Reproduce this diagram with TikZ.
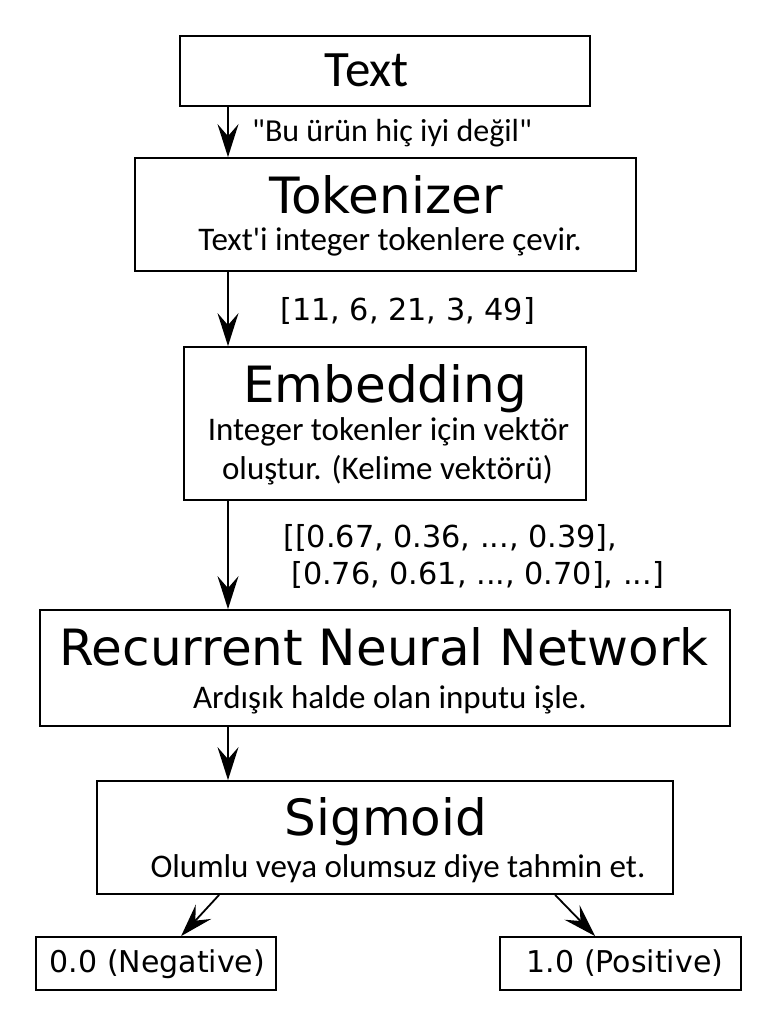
\documentclass[tikz,border=0pt]{standalone}
\usepackage{fontspec}
\setmainfont{DejaVu Sans}
\newfontfamily\calfont{Carlito}
\usetikzlibrary{arrows.meta,calc}
\tikzset{
  box/.style={draw, line width=1.8pt, inner sep=0pt, fill=white},
  title/.style={anchor=base, inner sep=0pt, font=\fontsize{50}{60}\selectfont},
  sub/.style={anchor=base, inner sep=0pt, font=\calfont\fontsize{33}{39}\selectfont},
  lab/.style={anchor=base west, inner sep=0pt, font=\fontsize{30.3}{37}\selectfont},
  qlab/.style={anchor=base west, inner sep=0pt, font=\calfont\fontsize{32}{37}\selectfont},
  outlab/.style={anchor=base, inner sep=0pt, font=\fontsize{30}{36}\selectfont},
  arr/.style={line width=1.8pt, -{Stealth[length=33pt, width=21pt, inset=12pt]}}
}
\begin{document}
\begin{tikzpicture}[x=1pt, y=-1pt]
\useasboundingbox[fill=white] (0,0) rectangle (778,1027);
% boxes
\node[box, minimum width=410pt, minimum height=70pt] (text) at (385,71) {};
\node[box, minimum width=501pt, minimum height=113pt] (tok) at (385.5,214.5) {};
\node[box, minimum width=402pt, minimum height=153pt] (emb) at (385,423.5) {};
\node[box, minimum width=690pt, minimum height=116pt] (rnn) at (385,668) {};
\node[box, minimum width=576pt, minimum height=113pt] (sig) at (385,837.5) {};
\node[box, minimum width=240pt, minimum height=53pt] (neg) at (156,963.5) {};
\node[box, minimum width=241pt, minimum height=53pt] (pos) at (620.5,963.5) {};
% texts
\node[title, font=\calfont\fontsize{51}{60}\selectfont] (ttext) at (367,87) {Text};
\node[title] (ttok) at (386,213) {Tokenizer};
\node[sub] (stok) at (390,250) {Text'i integer tokenlere çevir.};
\node[title] (temb) at (385,402) {Embedding};
\node[sub] (semb1) at (388.5,440) {Integer tokenler için vektör};
\node[sub] (semb2) at (387.5,479) {oluştur. (Kelime vektörü)};
\node[title] (trnn) at (384,665) {Recurrent Neural Network};
\node[sub] (srnn) at (390,708) {Ardışık halde olan inputu işle.};
\node[title] (tsig) at (386,835) {Sigmoid};
\node[sub] (ssig) at (398,877) {Olumlu veya olumsuz diye tahmin et.};
\node[outlab] (tneg) at (157.5,972) {0.0 (Negative)};
\node[outlab] (tpos) at (625,972) {1.0 (Positive)};
% connector labels
\node[qlab] (l1) at (252,142) {"Bu ürün hiç iyi değil"};
\node[lab] (l2) at (280,320) {[11, 6, 21, 3, 49]};
\node[lab] (l3a) at (283,547) {[[0.67, 0.36, ..., 0.39],};
\node[lab] (l3b) at (291,584) {[0.76, 0.61, ..., 0.70], ...]};
% connectors
\draw[arr] (text.south -| 228,0) -- (tok.north -| 228,0);
\draw[arr] (tok.south -| 228,0) -- (emb.north -| 228,0);
\draw[arr] (emb.south -| 228,0) -- (rnn.north -| 228,0);
\draw[arr] (rnn.south -| 228,0) -- (sig.north -| 228,0);
\draw[arr] ($(sig.south west)+(123,0)$) -- ($(neg.north west)+(146,0)$);
\draw[arr] ($(sig.south west)+(459,0)$) -- ($(pos.north west)+(96,0)$);
\end{tikzpicture}
\end{document}
